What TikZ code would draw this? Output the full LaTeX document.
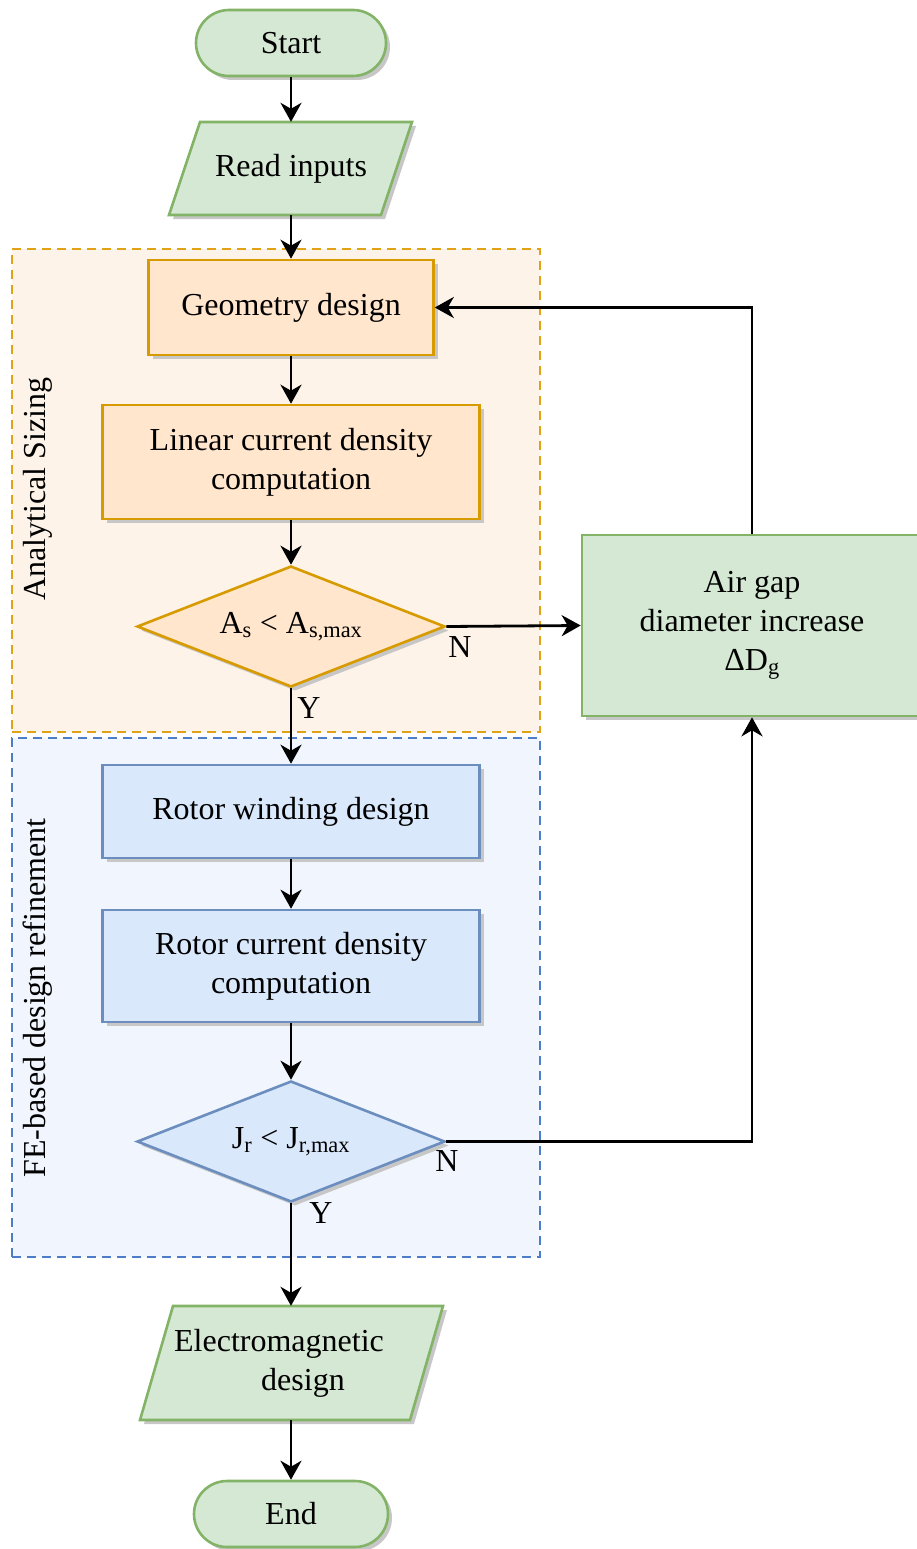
\documentclass[tikz,border=0pt]{standalone}
\usepackage{fontspec}
\setmainfont{Liberation Serif}
\usetikzlibrary{arrows.meta,shapes.geometric,shadows,calc}

\definecolor{grnfill}{HTML}{D5E8D4}
\definecolor{grnline}{HTML}{82B366}
\definecolor{orgfill}{HTML}{FFE6CC}
\definecolor{orgline}{HTML}{D79B00}
\definecolor{blufill}{HTML}{DAE8FC}
\definecolor{bluline}{HTML}{6C8EBF}
\definecolor{orggroup}{HTML}{FEF3E9}
\definecolor{orgdash}{HTML}{DFA315}
\definecolor{blugroup}{HTML}{F1F5FD}
\definecolor{bludash}{HTML}{4D7CC9}

\tikzset{
  every node/.style={font=\fontsize{32}{39}\selectfont, align=center, inner sep=0pt},
  shade3/.style={drop shadow={shadow xshift=4pt, shadow yshift=-4pt, fill=black!22, opacity=1}},
  terminal/.style={rectangle, rounded corners=33pt, fill=grnfill, draw=grnline, line width=2.6pt, shade3},
  iobox/.style={fill=grnfill, draw=grnline, line width=2.6pt, shade3},
  procA/.style={rectangle, fill=orgfill, draw=orgline, line width=2.6pt, shade3},
  procB/.style={rectangle, fill=blufill, draw=bluline, line width=2.6pt, shade3},
  procG/.style={rectangle, fill=grnfill, draw=grnline, line width=2.6pt, shade3},
  decA/.style={diamond, aspect=2.55, fill=orgfill, draw=orgline, line width=2.6pt, shade3},
  decB/.style={diamond, aspect=2.55, fill=blufill, draw=bluline, line width=2.6pt, shade3},
  groupA/.style={rectangle, fill=orggroup, draw=orgdash, line width=2.6pt, dash pattern=on 9pt off 6pt},
  groupB/.style={rectangle, fill=blugroup, draw=bludash, line width=2.6pt, dash pattern=on 9pt off 6pt},
  flow/.style={line width=2.8pt, -{Stealth[length=19pt, width=21pt, inset=6pt]}},
  yn/.style={anchor=center},
}

\begin{document}
\begin{tikzpicture}[x=1pt, y=-1pt]
  \useasboundingbox (0,0) rectangle (917,1549);

  % dashed stage frames
  \node[groupA, minimum width=528pt, minimum height=483pt] (stageA) at (276,490.5) {};
  \node[groupB, minimum width=528pt, minimum height=519pt] (stageB) at (276,997.5) {};
  \node[rotate=90] (labA) at (38,489) {Analytical Sizing};
  \node[rotate=90] (labB) at (38,998) {FE-based design refinement};

  % start / end terminals
  \node[terminal, minimum width=190pt, minimum height=66pt] (start) at (291,43) {Start};
  \node[terminal, minimum width=194pt, minimum height=66pt] (finish) at (291,1514) {End};

  % input parallelogram
  \path[iobox] (169,215) -- (381,215) -- (412,122) -- (200,122) -- cycle;
  \node[minimum width=212pt, minimum height=93pt] (read) at (291,168.5) {Read inputs};

  % output parallelogram
  \path[iobox] (140,1420) -- (410,1420) -- (443,1306) -- (173,1306) -- cycle;
  \node[minimum width=240pt, minimum height=114pt] (emag) at (291,1363)
    {\hspace*{-24pt}Electromagnetic\\\hspace*{24pt}design};

  % analytical sizing stage
  \node[procA, minimum width=285pt, minimum height=95pt] (geom) at (291,307.5) {Geometry design};
  \node[procA, minimum width=377pt, minimum height=114pt] (lin) at (291,462) {Linear current density\\computation};
  \node[decA, minimum width=308pt, minimum height=121pt] (dA) at (291,626.5)
    {A\textsubscript{s} < A\textsubscript{s,max}};

  % FE refinement stage
  \node[procB, minimum width=377pt, minimum height=93pt] (rw) at (291,811.5) {Rotor winding design};
  \node[procB, minimum width=377pt, minimum height=112pt] (rc) at (291,966) {Rotor current density\\computation};
  \node[decB, minimum width=308pt, minimum height=121pt] (dJ) at (291,1141.5)
    {J\textsubscript{r} < J\textsubscript{r,max}};

  % feedback box
  \node[procG, minimum width=340pt, minimum height=181pt] (air) at (752,625.5)
    {Air gap\\diameter increase\\ΔD\textsubscript{g}};

  % main flow
  \draw[flow] (start.south) -- (read.north);
  \draw[flow] (read.south) -- (geom.north);
  \draw[flow] (geom.south) -- (lin.north);
  \draw[flow] (lin.south) -- (dA.north);
  \draw[flow] (dA.south) -- (rw.north);
  \draw[flow] (rw.south) -- (rc.north);
  \draw[flow] (rc.south) -- (dJ.north);
  \draw[flow] (dJ.south) -- (emag.north);
  \draw[flow] (emag.south) -- (finish.north);

  % feedback loops
  \draw[flow] (dA.east) -- (air.west);
  \draw[flow] (air.north) |- (geom.east);
  \draw[flow] (dJ.east) -| (air.south);

  % branch labels
  \node[yn] (nA) at (460,647) {N};
  \node[yn] (yA) at (309,708) {Y};
  \node[yn] (nJ) at (447,1161) {N};
  \node[yn] (yJ) at (321,1213) {Y};
\end{tikzpicture}
\end{document}
